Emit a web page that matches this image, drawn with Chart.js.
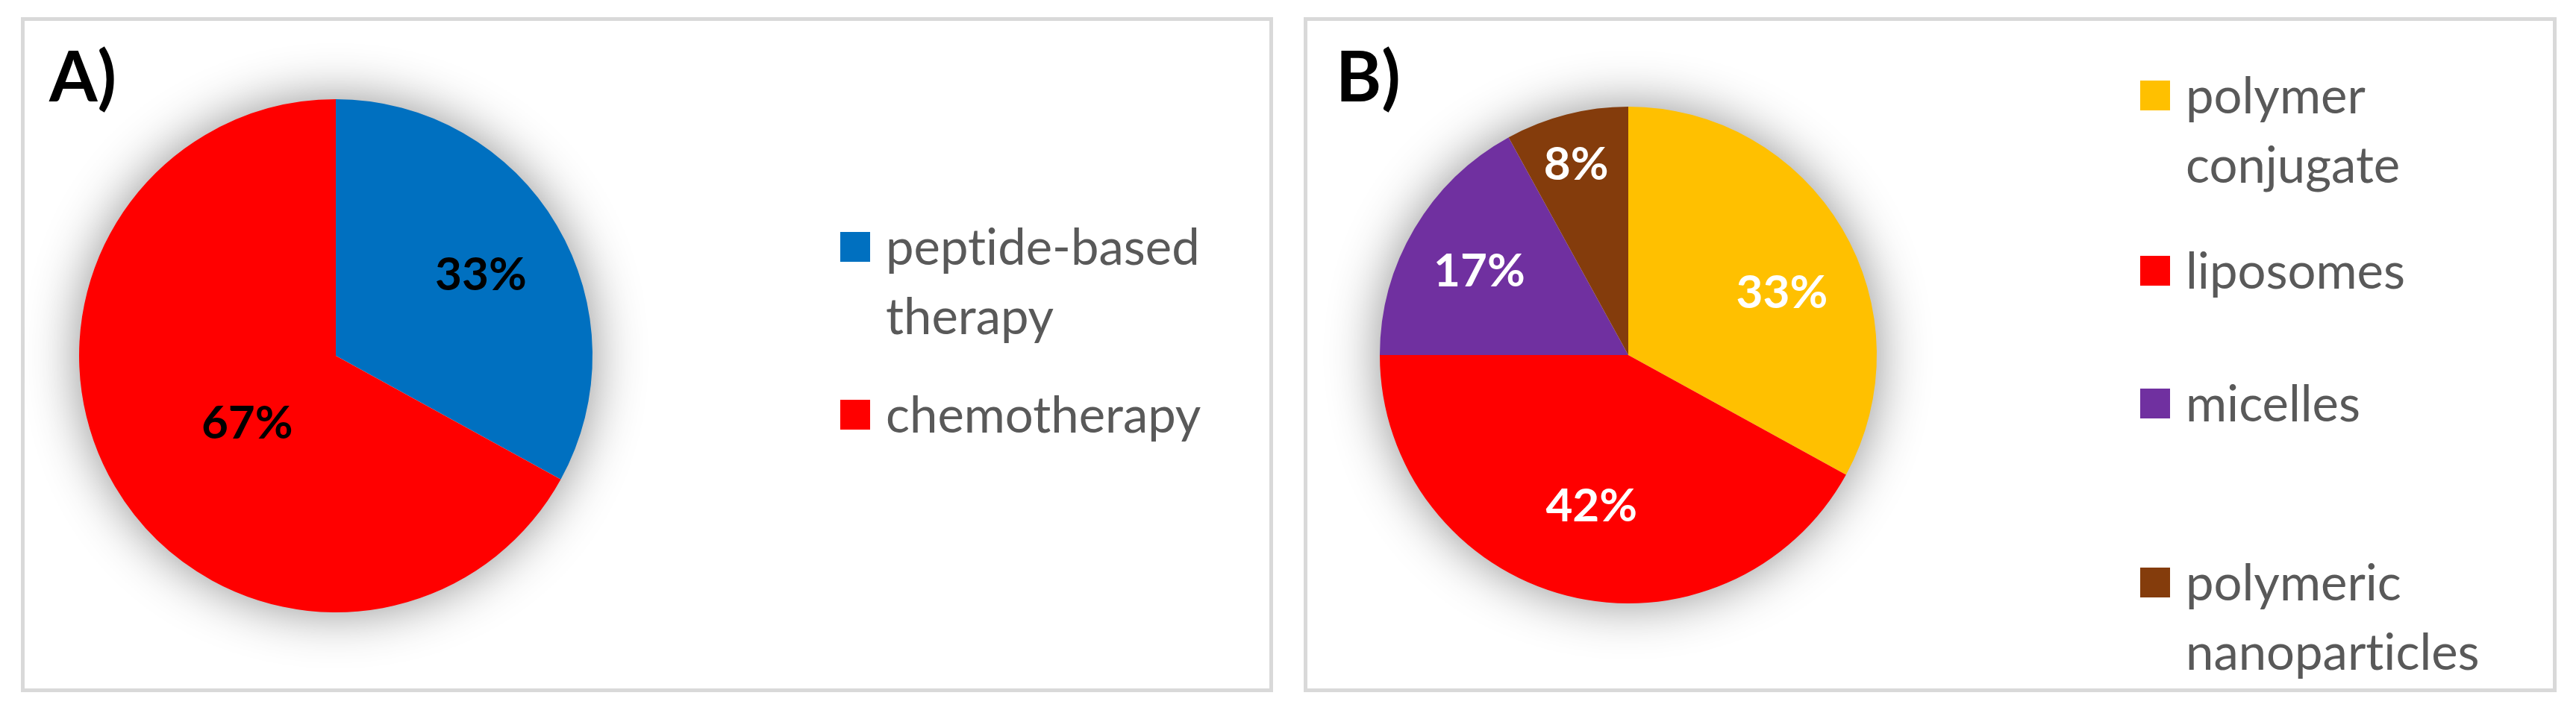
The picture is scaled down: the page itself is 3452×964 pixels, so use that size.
<!DOCTYPE html>
<html>
<head>
<meta charset="utf-8">
<script src="https://cdn.jsdelivr.net/npm/chart.js@4.4.0/dist/chart.umd.min.js"></script>
<style>
  body { margin: 0; background: #fff; width: 3452px; height: 964px; position: relative; overflow: hidden;
         font-family: Lato, "Open Sans", sans-serif; font-variant-ligatures: none; }
  .panel { position: absolute; top: 23px; height: 905px; box-sizing: border-box; border: 5px solid #d9d9d9; }
  .tag { position: absolute; top: 54px; font-weight: bold; font-size: 93px; line-height: 1; color: #000; }
  .pie { position: absolute; }
  .item { position: absolute; color: #595959; font-size: 67px; line-height: 93px; }
  .item .box { position: absolute; left: 0; top: 28px; width: 40px; height: 40px; }
  .item .txt { display: block; margin-left: 61px; }
</style>
</head>
<body>
<div class="panel" style="left:28px; width:1678px;"></div>
<div class="panel" style="left:1747px; width:1679px;"></div>
<div class="tag" style="left:66px;">A)</div>
<div class="tag" style="left:1790px;">B)</div>
<canvas id="pieA" class="pie"></canvas>
<canvas id="pieB" class="pie"></canvas>
<div id="legendA"></div>
<div id="legendB"></div>

<script>
// A) terapia
const etiquetasA = ["peptide-based therapy", "chemotherapy"];
const valoresA = [33, 67];
const coloresA = ["#0070C0", "#FF0000"];

// B) nanoportadores
const etiquetasB = ["polymer conjugate", "liposomes", "micelles", "polymeric nanoparticles"];
const valoresB = [33, 42, 17, 8];
const coloresB = ["#FFC000", "#FF0000", "#7030A0", "#843C0C"];

const PAD = 110;  // espacio para la sombra

// sombra suave debajo del pastel (como Excel)
const sombra = {
  id: "sombra",
  beforeDatasetsDraw(chart) {
    const arc = chart.getDatasetMeta(0).data[0];
    const ctx = chart.ctx;
    ctx.save();
    ctx.shadowColor = "rgba(0,0,0,0.45)";
    ctx.shadowBlur = 70;
    ctx.fillStyle = "#fff";
    ctx.beginPath();
    ctx.arc(arc.x, arc.y, arc.outerRadius - 1, 0, Math.PI * 2);
    ctx.fill();
    ctx.restore();
  }
};

// etiquetas de porcentaje dentro de cada porción
const porcentajes = {
  id: "porcentajes",
  afterDatasetsDraw(chart, args, opts) {
    const ctx = chart.ctx;
    const vals = chart.data.datasets[0].data;
    const size = 62;
    ctx.save();
    ctx.font = `bold ${size}px Lato, "Open Sans", sans-serif`;
    ctx.fillStyle = opts.color;
    ctx.textAlign = "center";
    ctx.textBaseline = "alphabetic";
    chart.getDatasetMeta(0).data.forEach((arc, i) => {
      const [frac, giro] = opts.pos[i];
      const ang = (arc.startAngle + arc.endAngle) / 2 + giro * Math.PI / 180;
      const d = arc.outerRadius * frac;
      const x = arc.x + Math.cos(ang) * d;
      const y = arc.y + Math.sin(ang) * d;
      ctx.fillText(vals[i] + "%", x, y + size * 0.36);
    });
    ctx.restore();
  }
};

function pastel(id, etiquetas, valores, colores, cfg) {
  const canvas = document.getElementById(id);
  const lado = cfg.r * 2 + PAD * 2;
  canvas.width = lado;
  canvas.height = lado;
  canvas.style.width = lado + "px";
  canvas.style.height = lado + "px";
  canvas.style.left = (cfg.cx - cfg.r - PAD) + "px";
  canvas.style.top = (cfg.cy - cfg.r - PAD) + "px";

  const chart = new Chart(canvas, {
    type: "pie",
    data: {
      labels: etiquetas,
      datasets: [{ data: valores, backgroundColor: colores, borderWidth: 0, hoverOffset: 0 }]
    },
    options: {
      responsive: false,
      animation: false,
      events: [],
      layout: { padding: PAD },
      plugins: {
        legend: { display: false },
        tooltip: { enabled: false },
        porcentajes: { color: cfg.labelColor, pos: cfg.labelPos }
      }
    },
    plugins: [sombra, porcentajes]
  });

  // leyenda a la derecha, construida con los datos del gráfico
  const cont = document.getElementById(cfg.legendId);
  chart.data.labels.forEach((lab, i) => {
    const item = document.createElement("div");
    item.className = "item";
    item.style.left = cfg.legendX + "px";
    item.style.top = (cfg.legendBase[i] - 72) + "px";
    item.style.width = cfg.legendWidth + "px";
    const box = document.createElement("span");
    box.className = "box";
    box.style.background = chart.data.datasets[0].backgroundColor[i];
    const txt = document.createElement("span");
    txt.className = "txt";
    txt.textContent = lab;
    item.appendChild(box);
    item.appendChild(txt);
    cont.appendChild(item);
  });
}

pastel("pieA", etiquetasA, valoresA, coloresA, {
  cx: 450, cy: 477, r: 344,
  labelColor: "#000", labelPos: [[0.65, 1], [0.43, -6]],
  legendId: "legendA", legendX: 1126, legendBase: [355, 580], legendWidth: 520
});

pastel("pieB", etiquetasB, valoresB, coloresB, {
  cx: 2182, cy: 476, r: 333,
  labelColor: "#fff", labelPos: [[0.67, 8], [0.62, -0.6], [0.69, -0.9], [0.80, -0.8]],
  legendId: "legendB", legendX: 2868, legendBase: [152, 387, 565, 805], legendWidth: 500
});
</script>
</body>
</html>
